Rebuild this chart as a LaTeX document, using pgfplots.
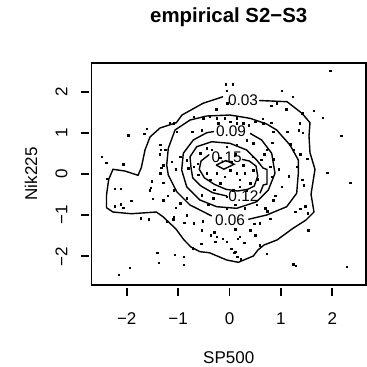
\documentclass[border=0pt]{standalone}
\usepackage{fontspec}
\setmainfont{Liberation Sans}
\usepackage{pgfplots}
\pgfplotsset{compat=1.18}

% sample points (SP500, Nik225 standardised returns)
\pgfplotstableread{
x y
-0.07 2.19
0.06 2.19
-0.05 2.03
1.96 2.52
1.02 2.03
1.23 1.88
0.81 1.66
0.92 1.72
1.10 1.58
1.64 1.54
1.41 1.48
1.81 1.37
0.65 1.35
0.81 1.25
1.37 1.24
-0.26 1.58
1.12 1.03
1.35 1.07
1.42 1.01
2.17 0.93
-1.97 0.95
-1.66 0.98
-1.61 1.10
0.83 0.76
1.18 0.73
1.25 0.60
0.68 0.48
1.38 0.48
1.51 0.37
0.86 0.36
1.31 0.18
0.96 0.12
1.90 0.03
1.15 -0.05
1.41 -0.13
2.35 -0.21
1.44 -0.27
1.02 -0.31
0.89 -0.53
1.47 -0.78
1.38 -0.84
1.28 -0.92
1.52 -0.95
0.73 -0.90
-2.49 0.42
-2.40 0.28
-2.07 0.24
-1.34 0.59
-1.36 0.48
-1.33 0.16
-1.05 0.12
-2.38 -0.11
-2.23 -0.36
-2.12 -0.36
-1.53 -0.33
-1.51 -0.17
-1.29 -0.21
-1.20 -0.52
-1.49 -0.60
-1.91 -0.65
-2.12 -0.73
-2.23 -0.78
-2.07 -0.82
-1.05 -0.82
-1.73 -1.07
-1.57 -1.10
-1.22 -1.15
-1.10 -1.10
-1.41 -1.91
-1.07 -1.96
-1.38 -2.16
-1.94 -2.28
-2.16 -2.45
-0.89 -2.01
-0.89 -2.21
0.15 -2.01
0.22 -2.07
0.72 -1.94
1.24 -2.19
1.29 -2.23
2.28 -2.25
0.11 -1.89
-0.88 -1.18
-0.52 -1.15
-0.54 -1.37
-0.30 -1.41
-0.37 -1.49
-0.13 -1.57
-0.28 -1.65
0.16 -1.57
0.29 -1.67
-0.55 -1.69
-0.72 -1.80
0.03 -1.82
0.09 -1.91
0.11 -1.34
0.50 -1.49
0.48 -1.21
1.53 -1.36
0.59 -1.73
-0.04 1.72
-1.09 1.24
-1.03 1.03
-0.25 1.36
-0.22 1.24
-0.09 1.36
0.01 1.27
0.14 1.24
0.27 1.24
0.37 1.19
0.50 1.27
0.14 1.36
-0.54 1.07
-1.35 0.71
-1.25 0.59
-1.29 0.22
-1.35 0.02
-1.12 0.30
-0.96 0.42
-0.83 0.34
-0.80 0.14
-0.70 0.18
-0.61 -0.02
-0.44 0.02
-0.38 -0.14
-0.25 0.02
-0.18 -0.22
-0.09 -0.06
0.01 0.10
0.14 0.02
0.20 -0.14
0.30 0.02
0.40 -0.22
0.33 -0.39
0.07 -0.39
0.20 -0.31
0.46 0.10
0.27 0.22
0.04 0.30
0.33 0.83
0.46 0.75
0.14 0.71
-0.05 0.67
-0.35 0.59
-0.44 0.63
-0.57 0.51
0.79 0.18
0.82 -0.06
0.72 0.59
0.85 1.03
0.66 1.24
-1.55 -0.39
-1.29 -0.63
-1.09 -0.39
-0.96 -0.71
-0.83 -0.59
-0.54 -0.51
-0.32 -0.59
-0.41 -0.75
-0.05 -0.83
0.11 -0.75
0.30 -0.83
0.53 -0.75
0.69 -0.83
0.85 -0.63
-1.09 -1.04
-0.83 -1.00
-0.70 -1.20
-0.25 -1.52
-0.05 -1.64
0.20 -1.52
0.40 -1.36
0.59 -1.20
0.79 -1.08
-1.16 1.24
-0.70 1.40
-0.51 1.36
-0.73 1.03
-0.39 1.40
0.12 0.48
-0.18 0.40
0.55 -0.12
-0.62 0.25
0.62 0.35
-0.30 -0.38
0.45 0.42
-0.05 -0.55
}\pts

\begin{document}
\begin{tikzpicture}
\begin{axis}[
  at={(91.5bp,82bp)}, anchor=south west,
  scale only axis, width=274.5bp, height=222.3bp,
  xmin=-2.685, xmax=2.656, ymin=-2.698, ymax=2.711,
  axis line style={line width=1.8bp},
  tick pos=left, tick align=outside, major tick length=8bp,
  xtick={-2,-1,0,1,2}, xticklabels={−2,−1,0,1,2},
  ytick={-2,-1,0,1,2}, yticklabels={−2,−1,0,1,2},
  xtick style={line width=1.8bp, black, yshift=-2.7bp},
  ytick style={line width=1.8bp, black, xshift=-2bp},
  ticklabel style={font=\fontsize{17bp}{20bp}\selectfont},
  xticklabel style={anchor=base}, xticklabel shift=31bp,
  yticklabel style={rotate=90, anchor=base}, yticklabel shift=16bp,
  title={empirical S2−S3},
  title style={font=\bfseries\fontsize{20.4bp}{24bp}\selectfont,
    at={(axis description cs:0.5,1)}, anchor=base, yshift=34.7bp},
  xlabel={SP500}, ylabel={Nik225},
  label style={font=\fontsize{17bp}{20bp}\selectfont},
  xlabel style={at={(axis description cs:0.5,0)}, anchor=base, yshift=-78bp},
  ylabel style={at={(axis description cs:-0.1985,0.5)}, anchor=base},
]
\addplot[only marks, mark=square*, mark size=0.75bp, black] table {\pts};

% density contours (each path leaves a gap for its level label)
\addplot[line width=1.4bp, black] coordinates {
(0.574,1.791) (1.119,1.762) (1.411,1.479) (1.566,1.251) (1.547,0.927)
(1.566,0.521) (1.663,0.117) (1.586,-0.491) (1.644,-0.922) (1.488,-1.117)
(1.235,-1.319) (0.924,-1.603) (0.671,-1.725) (0.554,-1.846) (0.463,-1.993)
(0.171,-2.146) (-0.054,-2.090) (-0.393,-1.912) (-0.574,-1.888) (-0.749,-1.774)
(-0.885,-1.603) (-1.041,-1.336) (-1.294,-1.036) (-1.424,-0.922) (-1.911,-0.964)
(-2.267,-0.922) (-2.393,-0.818) (-2.393,-0.509) (-2.350,-0.127) (-2.267,0.117)
(-2.033,0.075) (-1.780,-0.029) (-1.716,0.156) (-1.644,0.586) (-1.547,0.903)
(-1.352,1.122) (-1.035,1.251) (-0.924,1.438) (-0.516,1.723) (-0.126,1.883)
};
\addplot[line width=1.4bp, black] coordinates {
(0.366,-1.100) (0.724,-0.995) (1.113,-0.793) (1.307,-0.467) (1.339,0.019)
(1.339,0.343) (1.177,0.708) (0.918,1.073) (0.724,1.219) (0.399,1.358)
(0.010,1.438) (-0.444,1.414) (-0.768,1.316) (-1.060,1.073) (-1.191,0.628)
(-1.222,0.221) (-1.191,-0.022) (-1.027,-0.428) (-0.768,-0.752) (-0.574,-0.874)
(-0.346,-1.019)
};
\addplot[line width=1.4bp, black] coordinates {
(0.399,0.993) (0.626,0.830) (0.821,0.506) (0.885,0.019) (0.755,-0.387)
(0.529,-0.672) (0.140,-0.832) (-0.249,-0.793) (-0.574,-0.630) (-0.833,-0.307)
(-0.930,0.100) (-0.899,0.506) (-0.704,0.830) (-0.444,1.007) (-0.302,1.036)
};
\addplot[line width=1.4bp, black] coordinates {
(0.593,-0.467) (0.658,-0.265) (0.730,-0.241) (0.730,0.112) (0.652,0.148)
(0.529,0.343) (0.335,0.586) (0.010,0.749) (-0.346,0.788) (-0.638,0.667)
(-0.768,0.423) (-0.749,0.156) (-0.716,-0.088) (-0.554,-0.290) (-0.327,-0.453)
(-0.049,-0.533)
};
\addplot[line width=1.4bp, black] coordinates {
(0.243,0.360) (0.385,0.319) (0.516,0.197) (0.549,-0.046) (0.482,-0.290)
(0.354,-0.370) (0.160,-0.411) (-0.068,-0.370) (-0.296,-0.248) (-0.490,-0.088)
(-0.588,0.117) (-0.554,0.319) (-0.393,0.477)
};
\addplot[line width=1.4bp, black] coordinates {
(-0.26,0.22) (-0.07,0.33) (0.09,0.24) (-0.11,0.12) (-0.26,0.22)
};

\begin{scope}[every node/.style={font=\fontsize{15.4bp}{18bp}\selectfont, inner sep=0pt}]
\node at (axis cs:0.263,1.803) {0.03};
\node at (axis cs:0.029,1.036) {0.09};
\node at (axis cs:-0.054,0.416) {0.15};
\node at (axis cs:0.272,-0.545) {0.12};
\node at (axis cs:0.010,-1.110) {0.06};
\end{scope}
\end{axis}
% fixed page frame
\pgfresetboundingbox
\useasboundingbox (0,0) rectangle (367bp,367bp);
\end{tikzpicture}
\end{document}
